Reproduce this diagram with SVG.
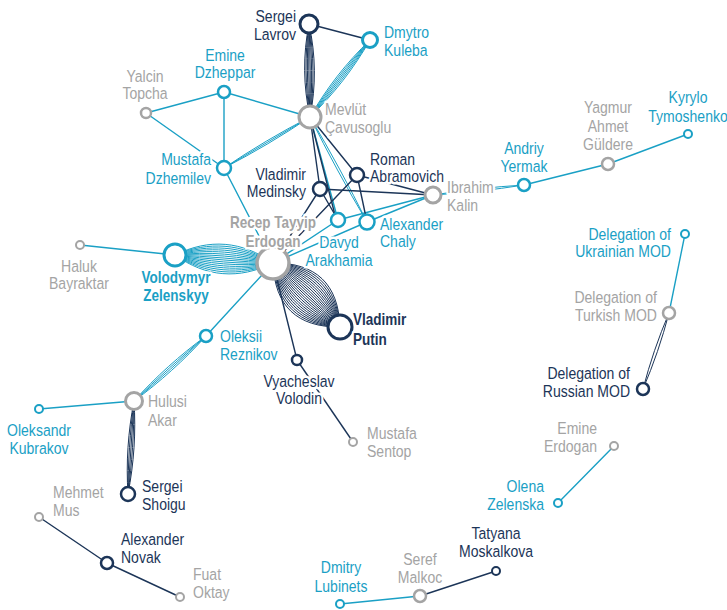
<svg xmlns="http://www.w3.org/2000/svg" xmlns:xlink="http://www.w3.org/1999/xlink" width="727" height="610" viewBox="0 0 727 610">
  <style>
    .e { fill: none; stroke-width: 1.4; stroke-linecap: round; }
    .ec { stroke: #1aa0c5; }
    .ed { stroke: #1c3558; }
    .bundle { fill: none; stroke-width: 1; }
    .n { fill: #fff; }
    .nc { stroke: #1aa0c5; }
    .nd { stroke: #1c3558; }
    .ng { stroke: #a4a4a4; }
    .lab { font-family: "Liberation Sans", Arial, sans-serif; font-size: 16.5px; stroke: #fff; stroke-width: 5; stroke-linejoin: round; paint-order: stroke; }
    .tc { fill: #1aa0c5; }
    .td { fill: #1c3558; }
    .tg { fill: #a4a4a4; }
    .bold { font-weight: bold; }
  </style>
  <defs>
    <!-- normalised lens bundles: parallel curves from (0,0) to (1,0), spread along y -->
    <path id="lens2" vector-effect="non-scaling-stroke" d="M0 0C.333 -1 .667 -1 1 0M0 0C.333 1 .667 1 1 0"/>
    <path id="lens3" vector-effect="non-scaling-stroke" d="M0 0C.333 -1 .667 -1 1 0M0 0L1 0M0 0C.333 1 .667 1 1 0"/>
    <path id="lens4" vector-effect="non-scaling-stroke" d="M0 0C.333 -1 .667 -1 1 0M0 0C.333 -.333 .667 -.333 1 0M0 0C.333 .333 .667 .333 1 0M0 0C.333 1 .667 1 1 0"/>
    <path id="lens5" vector-effect="non-scaling-stroke" d="M0 0C.333 -1 .667 -1 1 0M0 0C.333 -.5 .667 -.5 1 0M0 0L1 0M0 0C.333 .5 .667 .5 1 0M0 0C.333 1 .667 1 1 0"/>
    <path id="lens6" vector-effect="non-scaling-stroke" d="M0 0C.333 -1 .667 -1 1 0M0 0C.333 -.6 .667 -.6 1 0M0 0C.333 -.2 .667 -.2 1 0M0 0C.333 .2 .667 .2 1 0M0 0C.333 .6 .667 .6 1 0M0 0C.333 1 .667 1 1 0"/>
    <path id="lens8" vector-effect="non-scaling-stroke" d="M0 0C.333 -1 .667 -1 1 0M0 0C.333 -.714 .667 -.714 1 0M0 0C.333 -.429 .667 -.429 1 0M0 0C.333 -.143 .667 -.143 1 0M0 0C.333 .143 .667 .143 1 0M0 0C.333 .429 .667 .429 1 0M0 0C.333 .714 .667 .714 1 0M0 0C.333 1 .667 1 1 0"/>
    <path id="lens16" vector-effect="non-scaling-stroke" d="M0 0C.333 -1 .667 -1 1 0M0 0C.333 -.867 .667 -.867 1 0M0 0C.333 -.733 .667 -.733 1 0M0 0C.333 -.6 .667 -.6 1 0M0 0C.333 -.467 .667 -.467 1 0M0 0C.333 -.333 .667 -.333 1 0M0 0C.333 -.2 .667 -.2 1 0M0 0C.333 -.067 .667 -.067 1 0M0 0C.333 .067 .667 .067 1 0M0 0C.333 .2 .667 .2 1 0M0 0C.333 .333 .667 .333 1 0M0 0C.333 .467 .667 .467 1 0M0 0C.333 .6 .667 .6 1 0M0 0C.333 .733 .667 .733 1 0M0 0C.333 .867 .667 .867 1 0M0 0C.333 1 .667 1 1 0"/>
    <path id="lens24" vector-effect="non-scaling-stroke" d="M0 0C.333 -1 .667 -1 1 0M0 0C.333 -.913 .667 -.913 1 0M0 0C.333 -.826 .667 -.826 1 0M0 0C.333 -.739 .667 -.739 1 0M0 0C.333 -.652 .667 -.652 1 0M0 0C.333 -.565 .667 -.565 1 0M0 0C.333 -.478 .667 -.478 1 0M0 0C.333 -.391 .667 -.391 1 0M0 0C.333 -.304 .667 -.304 1 0M0 0C.333 -.217 .667 -.217 1 0M0 0C.333 -.13 .667 -.13 1 0M0 0C.333 -.043 .667 -.043 1 0M0 0C.333 .043 .667 .043 1 0M0 0C.333 .13 .667 .13 1 0M0 0C.333 .217 .667 .217 1 0M0 0C.333 .304 .667 .304 1 0M0 0C.333 .391 .667 .391 1 0M0 0C.333 .478 .667 .478 1 0M0 0C.333 .565 .667 .565 1 0M0 0C.333 .652 .667 .652 1 0M0 0C.333 .739 .667 .739 1 0M0 0C.333 .826 .667 .826 1 0M0 0C.333 .913 .667 .913 1 0M0 0C.333 1 .667 1 1 0"/>
  </defs>

  <g id="connectors">
    <!-- multi-meeting bundles -->
    <use xlink:href="#lens24" class="bundle ed" transform="matrix(67,64,-20.7,21.7,273,263)"/>
    <use xlink:href="#lens16" class="bundle ec" transform="matrix(98,8,-1.6,19.5,175,255)"/>
    <use xlink:href="#lens8" class="bundle ed" transform="matrix(1,93,-6.5,0.07,309,24)"/>
    <use xlink:href="#lens6" class="bundle ec" transform="matrix(-60,77,-3.7,-2.9,370,40)"/>
    <use xlink:href="#lens4" class="bundle ec" transform="matrix(-72,65,-2.2,-2.45,206,336)"/>
    <use xlink:href="#lens5" class="bundle ed" transform="matrix(-6,93,-4,-0.26,134,401)"/>
    <use xlink:href="#lens2" class="bundle ed" transform="matrix(-26,76,-1.9,-0.65,669,313)"/>
    <use xlink:href="#lens3" class="bundle ec" transform="matrix(86,-51,1.0,1.7,224,168)"/>
    <use xlink:href="#lens2" class="bundle ec" transform="matrix(91,-10,0.16,1.5,433,195)"/>
    <use xlink:href="#lens2" class="bundle ec" transform="matrix(57,105,-1.3,0.7,310,117)"/>

    <!-- single meetings -->
    <line class="e ed" x1="309" y1="24" x2="370" y2="40"/>
    <line class="e ec" x1="310" y1="117" x2="224" y2="92"/>
    <line class="e ec" x1="224" y1="92" x2="146" y2="113"/>
    <line class="e ec" x1="224" y1="92" x2="224" y2="168"/>
    <line class="e ec" x1="146" y1="113" x2="224" y2="168"/>
    <line class="e ec" x1="224" y1="168" x2="273" y2="263"/>
    <line class="e ec" x1="310" y1="117" x2="338" y2="220"/>
    <line class="e ed" x1="310" y1="117" x2="336" y2="219"/>
    <line class="e ed" x1="310" y1="117" x2="320" y2="189"/>
    <line class="e ed" x1="310" y1="117" x2="357" y2="175"/>
    <line class="e ec" x1="433" y1="195" x2="338" y2="220"/>
    <line class="e ec" x1="433" y1="195" x2="367" y2="222"/>
    <line class="e ec" x1="338" y1="220" x2="273" y2="263"/>
    <line class="e ec" x1="367" y1="222" x2="273" y2="263"/>
    <line class="e ed" x1="320" y1="189" x2="338" y2="220"/>
    <line class="e ed" x1="320" y1="189" x2="433" y2="195"/>
    <line class="e ed" x1="320" y1="189" x2="273" y2="263"/>
    <line class="e ed" x1="357" y1="175" x2="273" y2="263"/>
    <line class="e ed" x1="357" y1="175" x2="367" y2="222"/>
    <line class="e ed" x1="357" y1="175" x2="433" y2="195"/>
    <line class="e ec" x1="273" y1="263" x2="206" y2="336"/>
    <line class="e ed" x1="273" y1="263" x2="297" y2="360"/>
    <line class="e ed" x1="297" y1="360" x2="353" y2="442"/>
    <line class="e ec" x1="175" y1="255" x2="80" y2="245"/>
    <line class="e ec" x1="134" y1="401" x2="39" y2="409"/>
    <line class="e ed" x1="39" y1="517" x2="107" y2="563"/>
    <line class="e ed" x1="107" y1="563" x2="180" y2="597"/>
    <line class="e ec" x1="340" y1="604" x2="420" y2="596"/>
    <line class="e ed" x1="420" y1="596" x2="496" y2="571"/>
    <line class="e ec" x1="558" y1="503" x2="614" y2="446"/>
    <line class="e ec" x1="524" y1="185" x2="608" y2="164"/>
    <line class="e ec" x1="608" y1="164" x2="688" y2="134"/>
    <line class="e ec" x1="685" y1="234" x2="669" y2="313"/>
  </g>

  <!-- labels use a horizontally condensed sans: matrix(.85 0 0 1 X 0) places the anchor at X -->
  <g id="sergei-lavrov"><circle class="n nd" cx="309" cy="24" r="9" stroke-width="3"/><text class="lab td" text-anchor="end" transform="matrix(.85 0 0 1 296 0)"><tspan x="0" y="22">Sergei</tspan><tspan x="0" y="40">Lavrov</tspan></text></g>
  <g id="dmytro-kuleba"><circle class="n nc" cx="370" cy="40" r="7.5" stroke-width="3"/><text class="lab tc" transform="matrix(.85 0 0 1 384 0)"><tspan x="0" y="38">Dmytro</tspan><tspan x="0" y="56">Kuleba</tspan></text></g>
  <g id="mevlut-cavusoglu"><circle class="n ng" cx="310" cy="117" r="11" stroke-width="3"/><text class="lab tg" transform="matrix(.85 0 0 1 325 0)"><tspan x="0" y="115">Mevlüt</tspan><tspan x="0" y="133">Çavusoglu</tspan></text></g>
  <g id="emine-dzheppar"><circle class="n nc" cx="224" cy="92" r="6" stroke-width="2.5"/><text class="lab tc" text-anchor="middle" transform="matrix(.85 0 0 1 225 0)"><tspan x="0" y="61">Emine</tspan><tspan x="0" y="78">Dzheppar</tspan></text></g>
  <g id="yalcin-topcha"><circle class="n ng" cx="146" cy="113" r="5" stroke-width="2.5"/><text class="lab tg" text-anchor="middle" transform="matrix(.85 0 0 1 145 0)"><tspan x="0" y="82">Yalcin</tspan><tspan x="0" y="99">Topcha</tspan></text></g>
  <g id="mustafa-dzhemilev"><circle class="n nc" cx="224" cy="168" r="7" stroke-width="2.5"/><text class="lab tc" text-anchor="end" transform="matrix(.85 0 0 1 211 0)"><tspan x="0" y="165">Mustafa</tspan><tspan x="0" y="184">Dzhemilev</tspan></text></g>
  <g id="vladimir-medinsky"><circle class="n nd" cx="320" cy="189" r="7" stroke-width="2.5"/><text class="lab td" text-anchor="end" transform="matrix(.85 0 0 1 306 0)"><tspan x="0" y="180">Vladimir</tspan><tspan x="0" y="197">Medinsky</tspan></text></g>
  <g id="roman-abramovich"><circle class="n nd" cx="357" cy="175" r="7" stroke-width="2.5"/><text class="lab td" transform="matrix(.85 0 0 1 370 0)"><tspan x="0" y="165">Roman</tspan><tspan x="0" y="182">Abramovich</tspan></text></g>
  <g id="ibrahim-kalin"><circle class="n ng" cx="433" cy="195" r="8" stroke-width="3"/><text class="lab tg" transform="matrix(.85 0 0 1 447 0)"><tspan x="0" y="193">Ibrahim</tspan><tspan x="0" y="211">Kalin</tspan></text></g>
  <g id="davyd-arakhamia"><circle class="n nc" cx="338" cy="220" r="7" stroke-width="2.5"/><text class="lab tc" text-anchor="middle" transform="matrix(.85 0 0 1 339 0)"><tspan x="0" y="248">Davyd</tspan><tspan x="0" y="266">Arakhamia</tspan></text></g>
  <g id="alexander-chaly"><circle class="n nc" cx="367" cy="222" r="7.5" stroke-width="2.5"/><text class="lab tc" transform="matrix(.85 0 0 1 380 0)"><tspan x="0" y="230">Alexander</tspan><tspan x="0" y="247">Chaly</tspan></text></g>
  <g id="recep-tayyip-erdogan"><circle class="n ng" cx="273" cy="263" r="16" stroke-width="3.5"/><text class="lab tg bold" text-anchor="middle" transform="matrix(.82 0 0 1 273 0)"><tspan x="0" y="228">Recep Tayyip</tspan><tspan x="0" y="247">Erdogan</tspan></text></g>
  <g id="volodymyr-zelenskyy"><circle class="n nc" cx="175" cy="255" r="11" stroke-width="3"/><text class="lab tc bold" text-anchor="middle" transform="matrix(.82 0 0 1 176 0)"><tspan x="0" y="283">Volodymyr</tspan><tspan x="0" y="301">Zelenskyy</tspan></text></g>
  <g id="vladimir-putin"><circle class="n nd" cx="340" cy="327" r="12" stroke-width="3"/><text class="lab td bold" transform="matrix(.82 0 0 1 353 0)"><tspan x="0" y="325">Vladimir</tspan><tspan x="0" y="345">Putin</tspan></text></g>
  <g id="haluk-bayraktar"><circle class="n ng" cx="80" cy="245" r="4" stroke-width="2"/><text class="lab tg" text-anchor="middle" transform="matrix(.85 0 0 1 79 0)"><tspan x="0" y="272">Haluk</tspan><tspan x="0" y="289">Bayraktar</tspan></text></g>
  <g id="oleksii-reznikov"><circle class="n nc" cx="206" cy="336" r="6" stroke-width="2.5"/><text class="lab tc" transform="matrix(.85 0 0 1 220 0)"><tspan x="0" y="342">Oleksii</tspan><tspan x="0" y="360">Reznikov</tspan></text></g>
  <g id="vyacheslav-volodin"><circle class="n nd" cx="297" cy="360" r="5" stroke-width="2.5"/><text class="lab td" text-anchor="middle" transform="matrix(.85 0 0 1 299 0)"><tspan x="0" y="387">Vyacheslav</tspan><tspan x="0" y="404">Volodin</tspan></text></g>
  <g id="mustafa-sentop"><circle class="n ng" cx="353" cy="442" r="4" stroke-width="2"/><text class="lab tg" transform="matrix(.85 0 0 1 367 0)"><tspan x="0" y="439">Mustafa</tspan><tspan x="0" y="457">Sentop</tspan></text></g>
  <g id="hulusi-akar"><circle class="n ng" cx="134" cy="401" r="8.5" stroke-width="3"/><text class="lab tg" transform="matrix(.85 0 0 1 148 0)"><tspan x="0" y="407">Hulusi</tspan><tspan x="0" y="426">Akar</tspan></text></g>
  <g id="oleksandr-kubrakov"><circle class="n nc" cx="39" cy="409" r="4" stroke-width="2"/><text class="lab tc" text-anchor="middle" transform="matrix(.85 0 0 1 39 0)"><tspan x="0" y="436">Oleksandr</tspan><tspan x="0" y="454">Kubrakov</tspan></text></g>
  <g id="sergei-shoigu"><circle class="n nd" cx="128" cy="494" r="7" stroke-width="2.5"/><text class="lab td" transform="matrix(.85 0 0 1 142 0)"><tspan x="0" y="492">Sergei</tspan><tspan x="0" y="510">Shoigu</tspan></text></g>
  <g id="mehmet-mus"><circle class="n ng" cx="39" cy="517" r="4" stroke-width="2"/><text class="lab tg" transform="matrix(.85 0 0 1 53 0)"><tspan x="0" y="498">Mehmet</tspan><tspan x="0" y="516">Mus</tspan></text></g>
  <g id="alexander-novak"><circle class="n nd" cx="107" cy="563" r="6" stroke-width="2.5"/><text class="lab td" transform="matrix(.85 0 0 1 121 0)"><tspan x="0" y="545">Alexander</tspan><tspan x="0" y="563">Novak</tspan></text></g>
  <g id="fuat-oktay"><circle class="n ng" cx="180" cy="597" r="4" stroke-width="2"/><text class="lab tg" transform="matrix(.85 0 0 1 193 0)"><tspan x="0" y="580">Fuat</tspan><tspan x="0" y="598">Oktay</tspan></text></g>
  <g id="dmitry-lubinets"><circle class="n nc" cx="340" cy="604" r="4" stroke-width="2"/><text class="lab tc" text-anchor="middle" transform="matrix(.85 0 0 1 341 0)"><tspan x="0" y="573">Dmitry</tspan><tspan x="0" y="592">Lubinets</tspan></text></g>
  <g id="seref-malkoc"><circle class="n ng" cx="420" cy="596" r="6" stroke-width="2.5"/><text class="lab tg" text-anchor="middle" transform="matrix(.85 0 0 1 420 0)"><tspan x="0" y="565">Seref</tspan><tspan x="0" y="583">Malkoc</tspan></text></g>
  <g id="tatyana-moskalkova"><circle class="n nd" cx="496" cy="571" r="4" stroke-width="2"/><text class="lab td" text-anchor="middle" transform="matrix(.85 0 0 1 496 0)"><tspan x="0" y="539">Tatyana</tspan><tspan x="0" y="557">Moskalkova</tspan></text></g>
  <g id="olena-zelenska"><circle class="n nc" cx="558" cy="503" r="4" stroke-width="2"/><text class="lab tc" text-anchor="end" transform="matrix(.85 0 0 1 544 0)"><tspan x="0" y="492">Olena</tspan><tspan x="0" y="510">Zelenska</tspan></text></g>
  <g id="emine-erdogan"><circle class="n ng" cx="614" cy="446" r="4" stroke-width="2"/><text class="lab tg" text-anchor="end" transform="matrix(.85 0 0 1 597 0)"><tspan x="0" y="434">Emine</tspan><tspan x="0" y="452">Erdogan</tspan></text></g>
  <g id="andriy-yermak"><circle class="n nc" cx="524" cy="185" r="6" stroke-width="2.5"/><text class="lab tc" text-anchor="middle" transform="matrix(.85 0 0 1 524 0)"><tspan x="0" y="154">Andriy</tspan><tspan x="0" y="172">Yermak</tspan></text></g>
  <g id="yagmur-ahmet-guldere"><circle class="n ng" cx="608" cy="164" r="6" stroke-width="2.5"/><text class="lab tg" text-anchor="middle" transform="matrix(.85 0 0 1 608 0)"><tspan x="0" y="113">Yagmur</tspan><tspan x="0" y="132">Ahmet</tspan><tspan x="0" y="150">Güldere</tspan></text></g>
  <g id="kyrylo-tymoshenko"><circle class="n nc" cx="688" cy="134" r="4" stroke-width="2"/><text class="lab tc" text-anchor="middle" transform="matrix(.85 0 0 1 688 0)"><tspan x="0" y="103">Kyrylo</tspan><tspan x="0" y="122">Tymoshenko</tspan></text></g>
  <g id="delegation-ukrainian-mod"><circle class="n nc" cx="685" cy="234" r="4" stroke-width="2"/><text class="lab tc" text-anchor="end" transform="matrix(.85 0 0 1 671 0)"><tspan x="0" y="240">Delegation of</tspan><tspan x="0" y="257">Ukrainian MOD</tspan></text></g>
  <g id="delegation-turkish-mod"><circle class="n ng" cx="669" cy="313" r="6" stroke-width="2.5"/><text class="lab tg" text-anchor="end" transform="matrix(.85 0 0 1 657 0)"><tspan x="0" y="303">Delegation of</tspan><tspan x="0" y="321">Turkish MOD</tspan></text></g>
  <g id="delegation-russian-mod"><circle class="n nd" cx="643" cy="389" r="6" stroke-width="2.5"/><text class="lab td" text-anchor="end" transform="matrix(.85 0 0 1 630 0)"><tspan x="0" y="379">Delegation of</tspan><tspan x="0" y="397">Russian MOD</tspan></text></g>
</svg>
